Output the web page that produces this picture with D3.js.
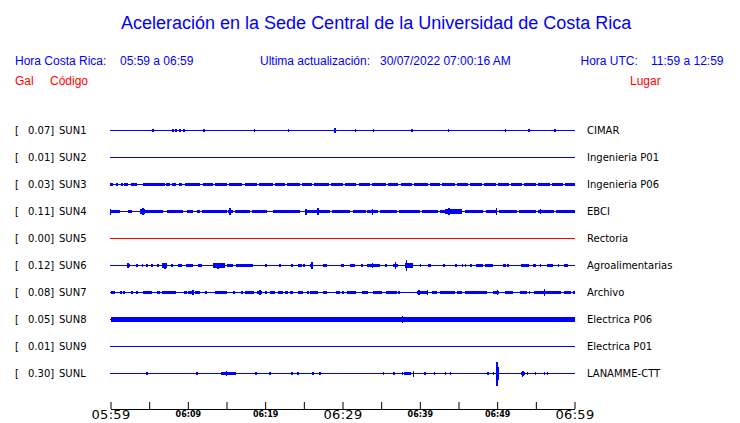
<!DOCTYPE html>
<html><head><meta charset="utf-8">
<script src="https://cdn.jsdelivr.net/npm/d3@7"></script>
<style>body{margin:0;background:#fff;} svg{display:block;}</style>
</head><body><svg id="c" width="740" height="423"></svg>
<script>
// ---------- data ----------
const stations = ["SUN1","SUN2","SUN3","SUN4","SUN5","SUN6","SUN7","SUN8","SUN9","SUNL"];
const places = ["CIMAR","Ingenieria P01","Ingenieria P06","EBCI","Rectoria","Agroalimentarias","Archivo","Electrica P06","Electrica P01","LANAMME-CTT"];
const peaksGal = [0.07,0.01,0.03,0.11,0.00,0.12,0.08,0.05,0.01,0.30];
const tickLabels = ["05:59","06:09","06:19","06:29","06:39","06:49","06:59"];
const majorTickLabels = ["05:59","06:29","06:59"];
// bursts: [startMinute, endMinute, amplitude]; spikes: [minute, amplitude] (minutes after 05:59)
const sun1Bursts = [];
const sun1Spikes = [[5.5,.12],[8.1,.12],[8.5,.1],[9.0,.1],[9.5,.1],[12.1,.1],[15.7,.08],[18.6,.1],[20.9,.08],[23.0,.1],[25.3,.08],[29.0,.2],[31.7,.1],[34.0,.1],[36.4,.08],[39.0,.1],[41.5,.08],[43.7,.1],[46.3,.08],[48.6,.08],[51.1,.1],[54.1,.12],[56.5,.08],[57.5,.1],[59.1,.08]];
const sun2Bursts = [];
const sun2Spikes = [];
const sun3Bursts = [[0,0.3,.12],[0.7,1.0,.12],[1.3,1.6,.12],[1.8,2.2,.12],[2.6,3.4,.12],[4.2,7.0,.12],[7.2,7.7,.12],[8.0,8.5,.12],[8.8,9.3,.12],[9.6,11.6,.12],[11.9,13.2,.12],[13.5,15.0,.12],[15.3,17.0,.12],[17.4,18.9,.12],[19.2,21.0,.12],[21.3,22.5,.12],[22.8,24.5,.12],[24.8,26.0,.12],[26.3,28.2,.12],[28.5,30.0,.12],[30.3,31.8,.12],[32.1,33.5,.12],[33.8,35.6,.12],[35.9,37.2,.12],[37.5,39.0,.12],[39.3,41.0,.12],[41.3,42.6,.12],[42.9,44.5,.12],[44.8,46.2,.12],[46.5,48.0,.12],[48.3,49.8,.12],[50.1,51.5,.12],[51.8,53.2,.12],[53.5,55.0,.12],[55.3,56.8,.12],[57.1,58.5,.12],[58.8,60,.12]];
const sun3Spikes = [[0,.15],[5.0,.15],[12.5,.14],[22.0,.14],[33.0,.14],[44.0,.14],[52.0,.14]];
const sun4Bursts = [[0,1.2,.14],[2.24,2.76,.12],[3.8,4.44,.2],[4.44,6.77,.14],[7.29,9.37,.12],[9.88,10.66,.12],[11.18,11.57,.1],[11.83,15.07,.14],[15.2,15.84,.12],[16.1,18.04,.12],[18.3,20.24,.14],[21.0,24.52,.12],[25.42,28.4,.14],[28.67,31.0,.12],[31.3,33.0,.12],[33.2,34.6,.14],[34.9,37.0,.12],[37.3,40.0,.14],[40.3,42.3,.12],[42.6,43.3,.14],[43.3,45.5,.18],[45.8,48.2,.12],[48.5,49.9,.16],[50.2,52.5,.12],[52.8,55.0,.14],[55.3,57.3,.12],[57.6,60,.12]];
const sun4Spikes = [[0,.25],[4.18,.3],[15.45,.3],[25.3,.25],[26.85,.3],[33.85,.25],[43.8,.3],[49.9,.33],[55.6,.22]];
const sun5Bursts = [];
const sun5Spikes = [];
const sun6Bursts = [[0,0.3,.08],[2.1,2.5,.15],[4.05,4.18,.15],[5.22,5.48,.12],[6.0,6.26,.12],[6.65,7.29,.17],[8.72,9.24,.12],[9.75,10.66,.15],[11.3,11.83,.12],[13.25,14.8,.17],[15.07,15.84,.15],[16.23,18.43,.15],[24.26,24.78,.15],[25.8,26.2,.15],[27.5,28.0,.12],[30.0,30.2,.1],[31.0,31.65,.12],[33.2,34.9,.15],[35.53,35.79,.12],[36.57,37.22,.15],[38.12,39.16,.17],[41.1,41.49,.12],[43.05,43.3,.12],[44.6,44.86,.1],[46.54,46.8,.12],[47.2,48.2,.15],[48.46,49.5,.15],[50.7,51.08,.12],[51.3,51.47,.1],[53.02,54.18,.15],[54.57,54.96,.12],[56.5,57.28,.15],[58.7,59.1,.12]];
const sun6Spikes = [[2.24,.17],[3.4,.1],[4.7,.1],[7.03,.25],[7.94,.1],[10.0,.12],[13.9,.25],[20.1,.1],[21.93,.1],[23.5,.12],[25.04,.1],[26.07,.3],[29.96,.1],[32.55,.1],[33.85,.2],[36.83,.3],[38.25,.45],[40.07,.1],[45.5,.1],[45.89,.1],[55.6,.1],[57.94,.1]];
const sun7Bursts = [[0,0.56,.13],[1.6,1.85,.12],[2.63,2.9,.12],[4.18,5.35,.13],[6.0,6.39,.12],[6.65,8.46,.13],[9.5,9.88,.13],[10.0,10.5,.15],[10.92,11.57,.13],[13.5,15.07,.13],[15.84,16.1,.12],[17.4,18.56,.13],[18.95,19.6,.15],[20.63,21.27,.13],[21.67,22.32,.13],[22.58,22.97,.12],[23.23,23.6,.13],[24.26,24.9,.13],[25.8,26.85,.13],[27.5,28.0,.13],[29.18,29.7,.12],[29.96,30.2,.12],[30.6,31.77,.13],[32.55,33.33,.13],[33.98,35.14,.13],[35.66,37.09,.13],[37.22,37.48,.12],[39.68,41.1,.15],[41.62,42.27,.13],[42.66,44.6,.13],[44.86,45.5,.13],[45.89,48.72,.13],[49.4,50.3,.15],[50.95,52.11,.13],[52.9,53.8,.13],[54.06,54.3,.12],[54.7,58.2,.13],[58.58,59.5,.13],[59.76,60,.12]];
const sun7Spikes = [[1.33,.1],[3.4,.1],[10.66,.2],[12.34,.1],[13.77,.1],[17.0,.1],[19.34,.2],[20.1,.1],[25.55,.1],[39.9,.2],[41.0,.2],[50.04,.22],[56.1,.33]];
const sun8Bursts = [[0,60,.17]];
const sun8Spikes = [[1.6,.23],[2.1,.2],[3.54,.2],[4.83,.2],[10.5,.23],[15.7,.23],[17.4,.2],[19.34,.18],[21.93,.2],[25.42,.2],[31.0,.2],[31.77,.2],[36.44,.2],[37.74,.27],[41.88,.23],[46.15,.2],[49.77,.23],[50.04,.23],[52.11,.2],[52.76,.2],[53.67,.18],[56.5,.18]];
const sun9Bursts = [];
const sun9Spikes = [[50.0,.05]];
const sunLBursts = [[14.3,16.2,.1],[38.0,38.9,.13],[48.7,49.0,.12],[53.1,53.6,.12]];
const sunLSpikes = [[4.7,.1],[8.46,.08],[11.18,.1],[14.4,.15],[15.0,.17],[15.45,.15],[16.0,.15],[18.8,.1],[20.63,.1],[23.5,.1],[24.26,.12],[26.2,.1],[27.1,.1],[31.13,.08],[34.63,.08],[35.27,.12],[36.57,.12],[36.7,.12],[37.09,.08],[37.74,.12],[39.16,.25],[40.33,.08],[40.7,.12],[41.88,.15],[43.3,.12],[43.95,.1],[48.85,.15],[49.5,.1],[49.9,.45],[50.0,1.0],[50.1,.55],[53.28,.25],[53.4,.22],[53.93,.1],[54.96,.12],[56.1,.1],[56.5,.1],[57.8,.08],[59.5,.08]];
const allBursts = [sun1Bursts,sun2Bursts,sun3Bursts,sun4Bursts,sun5Bursts,sun6Bursts,sun7Bursts,sun8Bursts,sun9Bursts,sunLBursts];
const allSpikes = [sun1Spikes,sun2Spikes,sun3Spikes,sun4Spikes,sun5Spikes,sun6Spikes,sun7Spikes,sun8Spikes,sun9Spikes,sunLSpikes];

// ---------- drawing ----------
const svg = d3.select("#c");
const BLUE = "#0000ff", RED = "#ff0000";
const t0 = new Date(2022,6,30,5,59);
const toDate = m => new Date(t0.getTime() + m*60000);
const x = d3.scaleTime().domain([t0, toDate(60)]).range([110.5, 574.5]);
const y = d3.scalePoint().domain(stations).range([130, 373]);
const amp = d3.scaleLinear().domain([0,1]).range([0,12]);

// title & header
svg.append("text").attr("x",121).attr("y",29).attr("fill",BLUE)
  .style("font-family","'Liberation Sans',Arial,sans-serif").style("font-size","18px")
  .text("Aceleración en la Sede Central de la Universidad de Costa Rica");
const hdr = (tx,xx,yy,col) => svg.append("text").attr("x",xx).attr("y",yy).attr("fill",col)
  .style("font-family","'Liberation Sans',Arial,sans-serif").style("font-size","12px").text(tx);
hdr("Hora Costa Rica:",15,65,BLUE);
hdr("05:59 a 06:59",120,65,BLUE);
hdr("Ultima actualización:",260,65,BLUE);
hdr("30/07/2022 07:00:16 AM",380,65,BLUE);
hdr("Hora UTC:",580.5,65,BLUE);
hdr("11:59 a 12:59",651,65,BLUE);
hdr("Gal",15,85,RED);
hdr("Código",50,85,RED);
hdr("Lugar",630,85,RED);

const lab = (tx,xx,yy) => svg.append("text").attr("x",xx).attr("y",yy).attr("fill","#000")
  .style("font-family","'DejaVu Sans',sans-serif").style("font-size","10px").text(tx);

stations.forEach((s,i) => {
  const yc = Math.round(y(s)) + 0.5;
  const col = s === "SUN5" ? RED : BLUE;
  lab("[", 15, y(s)+4);
  lab(peaksGal[i].toFixed(2)+"]", 28, y(s)+4);
  lab(s, 59, y(s)+4);
  lab(places[i], 587, y(s)+4);
  const g = svg.append("g").attr("shape-rendering","crispEdges");
  g.append("line").attr("x1",x(toDate(0))-0.5).attr("x2",x(toDate(60))+0.5)
    .attr("y1",yc).attr("y2",yc).attr("stroke",col).attr("stroke-width",1);
  g.selectAll("rect.b").data(allBursts[i]).enter().append("rect").attr("class","b")
    .attr("x",d=>x(toDate(d[0]))).attr("width",d=>Math.max(1,x(toDate(d[1]))-x(toDate(d[0]))))
    .attr("y",d=>yc-amp(d[2])).attr("height",d=>2*amp(d[2])).attr("fill",col);
  g.selectAll("rect.s").data(allSpikes[i]).enter().append("rect").attr("class","s")
    .attr("x",d=>x(toDate(d[0]))-0.75).attr("width",1.5)
    .attr("y",d=>yc-amp(d[1])).attr("height",d=>2*amp(d[1])).attr("fill",col);
});

// time axis
const tickVals = d3.range(0,61,5).map(toDate);
const fmt = d3.timeFormat("%H:%M");
const axis = d3.axisBottom(x).tickValues(tickVals).tickSizeInner(-7).tickSizeOuter(0)
  .tickFormat(d => tickLabels.includes(fmt(d)) ? fmt(d) : "");
const ag = svg.append("g").attr("transform","translate(0,409)").call(axis);
ag.select(".domain").attr("stroke","#000");
ag.selectAll(".tick line").attr("stroke","#000");
ag.selectAll(".tick text").attr("fill","#000").attr("dy",0)
  .style("font-family","'DejaVu Sans',sans-serif")
  .each(function(d){
    const big = majorTickLabels.includes(fmt(d));
    d3.select(this).attr("y", big ? 9.7 : 7.7).style("font-size", big ? "13px" : "8px")
      .style("letter-spacing", big ? "0.3px" : "0px").style("font-weight", big ? "normal" : "bold");
  });
</script></body></html>
